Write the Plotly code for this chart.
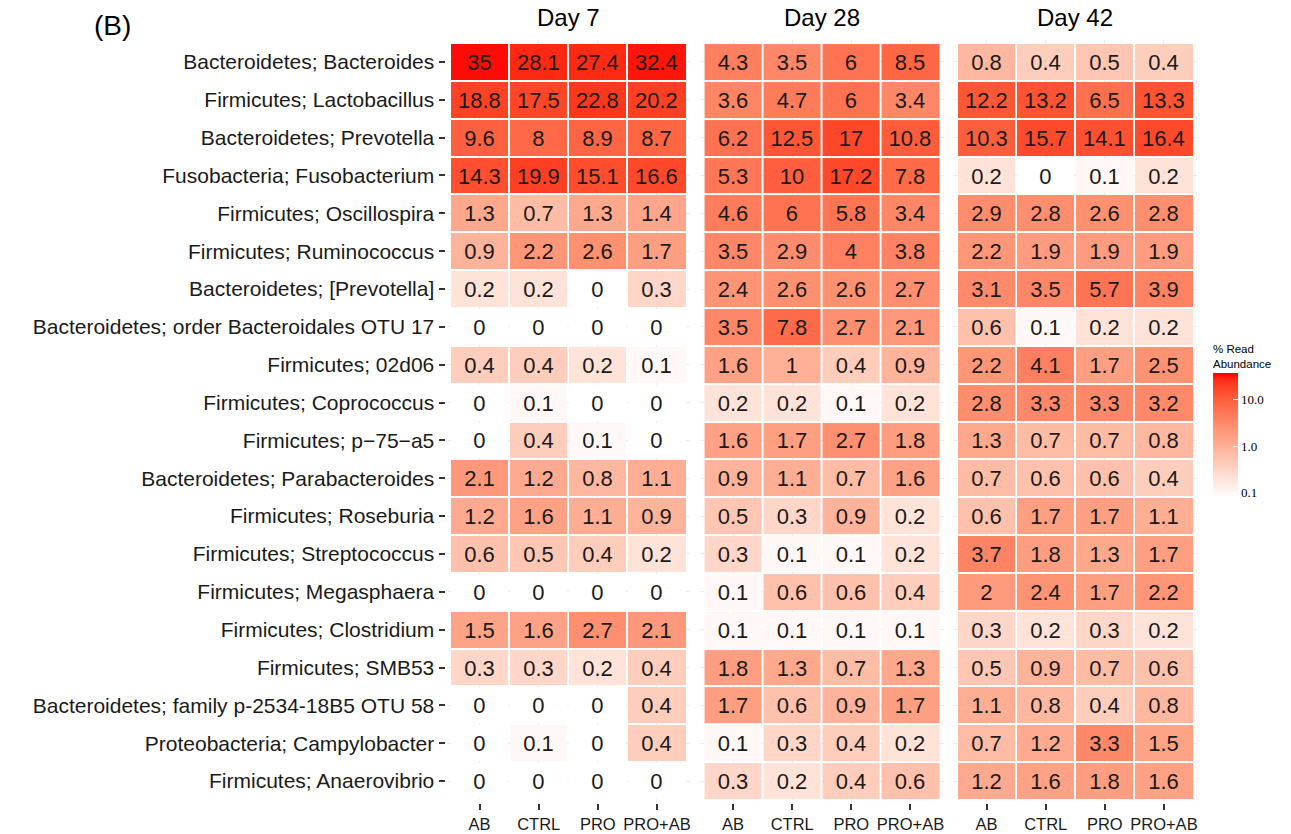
import numpy as np
import plotly.graph_objects as go

# ---- data -------------------------------------------------------------
taxa = [
    "Bacteroidetes; Bacteroides",
    "Firmicutes; Lactobacillus",
    "Bacteroidetes; Prevotella",
    "Fusobacteria; Fusobacterium",
    "Firmicutes; Oscillospira",
    "Firmicutes; Ruminococcus",
    "Bacteroidetes; [Prevotella]",
    "Bacteroidetes; order Bacteroidales OTU 17",
    "Firmicutes; 02d06",
    "Firmicutes; Coprococcus",
    "Firmicutes; p\u221275\u2212a5",
    "Bacteroidetes; Parabacteroides",
    "Firmicutes; Roseburia",
    "Firmicutes; Streptococcus",
    "Firmicutes; Megasphaera",
    "Firmicutes; Clostridium",
    "Firmicutes; SMB53",
    "Bacteroidetes; family p-2534-18B5 OTU 58",
    "Proteobacteria; Campylobacter",
    "Firmicutes; Anaerovibrio",
]
groups = ["AB", "CTRL", "PRO", "PRO+AB"]
days = ["Day 7", "Day 28", "Day 42"]

day7 = [
    [35, 28.1, 27.4, 32.4],
    [18.8, 17.5, 22.8, 20.2],
    [9.6, 8, 8.9, 8.7],
    [14.3, 19.9, 15.1, 16.6],
    [1.3, 0.7, 1.3, 1.4],
    [0.9, 2.2, 2.6, 1.7],
    [0.2, 0.2, 0, 0.3],
    [0, 0, 0, 0],
    [0.4, 0.4, 0.2, 0.1],
    [0, 0.1, 0, 0],
    [0, 0.4, 0.1, 0],
    [2.1, 1.2, 0.8, 1.1],
    [1.2, 1.6, 1.1, 0.9],
    [0.6, 0.5, 0.4, 0.2],
    [0, 0, 0, 0],
    [1.5, 1.6, 2.7, 2.1],
    [0.3, 0.3, 0.2, 0.4],
    [0, 0, 0, 0.4],
    [0, 0.1, 0, 0.4],
    [0, 0, 0, 0],
]
day28 = [
    [4.3, 3.5, 6, 8.5],
    [3.6, 4.7, 6, 3.4],
    [6.2, 12.5, 17, 10.8],
    [5.3, 10, 17.2, 7.8],
    [4.6, 6, 5.8, 3.4],
    [3.5, 2.9, 4, 3.8],
    [2.4, 2.6, 2.6, 2.7],
    [3.5, 7.8, 2.7, 2.1],
    [1.6, 1, 0.4, 0.9],
    [0.2, 0.2, 0.1, 0.2],
    [1.6, 1.7, 2.7, 1.8],
    [0.9, 1.1, 0.7, 1.6],
    [0.5, 0.3, 0.9, 0.2],
    [0.3, 0.1, 0.1, 0.2],
    [0.1, 0.6, 0.6, 0.4],
    [0.1, 0.1, 0.1, 0.1],
    [1.8, 1.3, 0.7, 1.3],
    [1.7, 0.6, 0.9, 1.7],
    [0.1, 0.3, 0.4, 0.2],
    [0.3, 0.2, 0.4, 0.6],
]
day42 = [
    [0.8, 0.4, 0.5, 0.4],
    [12.2, 13.2, 6.5, 13.3],
    [10.3, 15.7, 14.1, 16.4],
    [0.2, 0, 0.1, 0.2],
    [2.9, 2.8, 2.6, 2.8],
    [2.2, 1.9, 1.9, 1.9],
    [3.1, 3.5, 5.7, 3.9],
    [0.6, 0.1, 0.2, 0.2],
    [2.2, 4.1, 1.7, 2.5],
    [2.8, 3.3, 3.3, 3.2],
    [1.3, 0.7, 0.7, 0.8],
    [0.7, 0.6, 0.6, 0.4],
    [0.6, 1.7, 1.7, 1.1],
    [3.7, 1.8, 1.3, 1.7],
    [2, 2.4, 1.7, 2.2],
    [0.3, 0.2, 0.3, 0.2],
    [0.5, 0.9, 0.7, 0.6],
    [1.1, 0.8, 0.4, 0.8],
    [0.7, 1.2, 3.3, 1.5],
    [1.2, 1.6, 1.8, 1.6],
]
panels = [day7, day28, day42]

colorbar_ticks = [0.1, 1.0, 10.0]
colorbar_ticktext = ["0.1", "1.0", "10.0"]
floor_value = 0.08
top_value = 38


# ---- white -> red gradient interpolated in CIE Lab ---------------------
def _srgb_to_lab(rgb):
    c = np.array(rgb, float) / 255.0
    lin = np.where(c <= 0.04045, c / 12.92, ((c + 0.055) / 1.055) ** 2.4)
    m = np.array([[0.4124, 0.3576, 0.1805],
                  [0.2126, 0.7152, 0.0722],
                  [0.0193, 0.1192, 0.9505]])
    xyz = m @ lin / np.array([0.95047, 1.0, 1.08883])
    f = np.where(xyz > 0.008856, np.cbrt(xyz), 7.787 * xyz + 16 / 116)
    return np.array([116 * f[1] - 16, 500 * (f[0] - f[1]), 200 * (f[1] - f[2])])


def _lab_to_srgb(lab):
    L, a, b = lab
    fy = (L + 16) / 116
    fx = fy + a / 500
    fz = fy - b / 200
    f = np.array([fx, fy, fz])
    xyz = np.where(f ** 3 > 0.008856, f ** 3, (f - 16 / 116) / 7.787)
    xyz = xyz * np.array([0.95047, 1.0, 1.08883])
    m = np.array([[3.2406, -1.5372, -0.4986],
                  [-0.9689, 1.8758, 0.0415],
                  [0.0557, -0.2040, 1.0570]])
    lin = np.clip(m @ xyz, 0, 1)
    c = np.where(lin <= 0.0031308, 12.92 * lin, 1.055 * lin ** (1 / 2.4) - 0.055)
    r, g, bb = np.round(np.clip(c, 0, 1) * 255).astype(int)
    return f"rgb({r},{g},{bb})"


lab_lo = _srgb_to_lab((255, 255, 255))
lab_hi = _srgb_to_lab((255, 0, 0))
colorscale = [[t, _lab_to_srgb(lab_lo + (lab_hi - lab_lo) * t)]
              for t in np.linspace(0, 1, 21)]

# ---- geometry (pixels) -------------------------------------------------
W, H = 1291, 834
cell_left = [450, 703.5, 957]
cell_w = 236.5
cell_top, cell_bot = 43, 800
ex, ey = 0.06, 0.08
col_w = cell_w / len(groups)
row_h = (cell_bot - cell_top) / len(taxa)

y_top_px = cell_top - ey * row_h
y_bot_px = cell_bot + ey * row_h
y_domain = [1 - y_bot_px / H, 1 - y_top_px / H]

SANS = "Liberation Sans, Arial, sans-serif"
TICK_COLOR = "#333333"


def fmt(v):
    return "%g" % v


fig = go.Figure()
for i, (day, vals) in enumerate(zip(days, panels)):
    arr = np.array(vals, float)
    z = np.log10(np.maximum(arr, floor_value))
    text = [[fmt(v) for v in row] for row in vals]
    xname = "x" if i == 0 else f"x{i + 1}"
    fig.add_trace(go.Heatmap(
        x=groups, y=taxa, z=z, text=text,
        texttemplate="%{text}",
        textfont=dict(size=22, color="#1a1a1a", family=SANS),
        coloraxis="coloraxis", xgap=2, ygap=2,
        xaxis=xname, yaxis="y",
        hovertemplate=day + "<br>%{y}<br>%{x}: %{text}<extra></extra>",
    ))
    left_px = cell_left[i] - ex * col_w
    right_px = cell_left[i] + cell_w + ex * col_w
    axis = dict(
        domain=[left_px / W, right_px / W],
        range=[-0.5 - ex, len(groups) - 0.5 + ex],
        type="category", categoryorder="array", categoryarray=groups,
        anchor="y", automargin=False,
        showgrid=True, gridcolor="#EEEEEE", gridwidth=1,
        zeroline=False, showline=False,
        ticks="outside", ticklen=6, tickwidth=1.6, tickcolor=TICK_COLOR,
        ticklabelstandoff=0,
        tickfont=dict(size=16.5, color="#1a1a1a", family=SANS),
        fixedrange=True,
    )
    fig.update_layout(**{("xaxis" if i == 0 else f"xaxis{i + 1}"): axis})
    fig.add_annotation(
        text=day, xref="paper", yref="paper",
        x=(cell_left[i] + cell_w / 2) / W, y=1 - 17.5 / H,
        xanchor="center", yanchor="middle", showarrow=False,
        font=dict(size=24, color="#000000", family=SANS),
    )

fig.update_layout(
    yaxis=dict(
        domain=y_domain,
        range=[len(taxa) - 0.5 + ey, -0.5 - ey],
        type="category", categoryorder="array", categoryarray=taxa,
        anchor="x", automargin=False,
        showgrid=True, gridcolor="#EEEEEE", gridwidth=1,
        zeroline=False, showline=False,
        ticks="outside", ticklen=6, tickwidth=1.6, tickcolor=TICK_COLOR,
        ticklabelstandoff=1,
        tickfont=dict(size=21, color="#1a1a1a", family=SANS),
        fixedrange=True,
    ),
    coloraxis=dict(
        colorscale=colorscale,
        cmin=np.log10(floor_value), cmax=np.log10(top_value),
        colorbar=dict(
            x=1213 / W, xanchor="left", xpad=0,
            y=1 - 341 / H, yanchor="top", ypad=0,
            len=156, lenmode="pixels",
            thickness=25, thicknessmode="pixels",
            outlinewidth=0,
            tickvals=np.log10(colorbar_ticks).tolist(),
            ticktext=colorbar_ticktext,
            ticks="inside", ticklen=5, tickcolor="white", tickwidth=1,
            tickfont=dict(size=13, color="#000000",
                          family="Liberation Serif, Times New Roman, serif"),
            title=dict(text="% Read<br>Abundance", side="top",
                       font=dict(size=11.5, color="#000000", family=SANS)),
        ),
    ),
    annotations=list(fig.layout.annotations) + [dict(
        text="(B)", xref="paper", yref="paper",
        x=113 / W, y=1 - 25 / H, xanchor="center", yanchor="middle",
        showarrow=False,
        font=dict(size=28, color="#000000", family=SANS),
    )],
    width=W, height=H,
    margin=dict(l=0, r=0, t=0, b=0, autoexpand=False),
    paper_bgcolor="white", plot_bgcolor="white",
    showlegend=False,
)

fig.write_html("out.html", include_plotlyjs=True)
